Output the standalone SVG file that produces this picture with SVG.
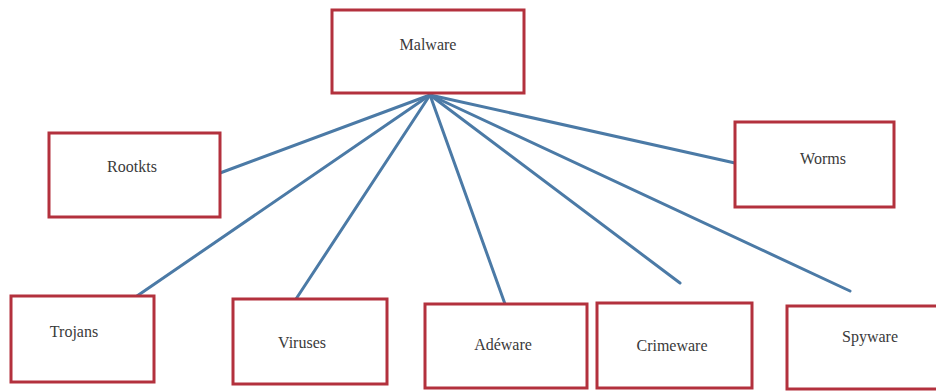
<svg xmlns="http://www.w3.org/2000/svg" width="936" height="392" viewBox="0 0 936 392">
  <style>
    .box { fill: #ffffff; stroke: #b3313d; stroke-width: 3; }
    .label { font-family: 'Liberation Serif', 'DejaVu Serif', 'Times New Roman', serif; font-size: 16px; fill: #3a3a3a; text-anchor: middle; }
    .link { stroke: #4b7aa6; stroke-width: 3; stroke-linecap: round; fill: none; }
  </style>
  <rect width="936" height="392" fill="#ffffff"/>

  <!-- connectors fanning out from the Malware box -->
  <g id="connectors">
    <line class="link" x1="430" y1="95" x2="220" y2="173"/>
    <line class="link" x1="430" y1="95" x2="137" y2="296"/>
    <line class="link" x1="430" y1="95" x2="296" y2="299"/>
    <line class="link" x1="430" y1="95" x2="505" y2="304"/>
    <line class="link" x1="430" y1="95" x2="680" y2="283"/>
    <line class="link" x1="430" y1="95" x2="850" y2="291"/>
    <line class="link" x1="430" y1="95" x2="735" y2="163"/>
  </g>

  <g id="malware">
    <rect class="box" x="332" y="10" width="192" height="83"/>
    <text class="label" x="428" y="50" font-family="Liberation Serif, serif">Malware</text>
  </g>
  <g id="rootkits">
    <rect class="box" x="49" y="133" width="171" height="84"/>
    <text class="label" x="132" y="172">Rootkts</text>
  </g>
  <g id="worms">
    <rect class="box" x="735" y="122" width="159" height="85"/>
    <text class="label" x="823" y="164">Worms</text>
  </g>
  <g id="trojans">
    <rect class="box" x="11" y="296" width="143" height="86"/>
    <text class="label" x="74" y="337">Trojans</text>
  </g>
  <g id="viruses">
    <rect class="box" x="233" y="299" width="154" height="85"/>
    <text class="label" x="302" y="348">Viruses</text>
  </g>
  <g id="adware">
    <rect class="box" x="425" y="304" width="162" height="84"/>
    <text class="label" x="503" y="350">Adéware</text>
  </g>
  <g id="crimeware">
    <rect class="box" x="597" y="303" width="155" height="85"/>
    <text class="label" x="672" y="351">Crimeware</text>
  </g>
  <g id="spyware">
    <rect class="box" x="787" y="306" width="160" height="83"/>
    <text class="label" x="870" y="342">Spyware</text>
  </g>
</svg>
